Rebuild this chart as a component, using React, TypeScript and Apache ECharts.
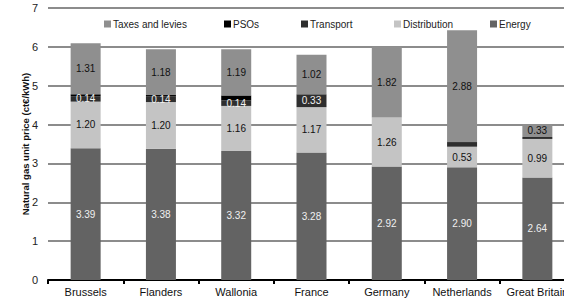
import React, { useEffect, useRef } from "react";
import * as echarts from "echarts";

const categories = ["Brussels", "Flanders", "Wallonia", "France", "Germany", "Netherlands", "Great Britain"];
const energy = [3.39, 3.38, 3.32, 3.28, 2.92, 2.90, 2.64];
const distribution = [1.20, 1.20, 1.16, 1.17, 1.26, 0.53, 0.99];
const transport = [0.14, 0.14, 0.14, 0.33, 0, 0.12, 0.05];
const psos = [0.05, 0.04, 0.13, 0, 0, 0, 0];
const taxes = [1.31, 1.18, 1.19, 1.02, 1.82, 2.88, 0.33];
const transportLabelShown = [true, true, true, true, false, false, false];
const yTicks = [0, 1, 2, 3, 4, 5, 6, 7];
const yAxisTitle = "Natural gas unit price (ct€/kWh)";

const FONT = "Liberation Sans, Arial, sans-serif";

export default function App() {
  const ref = useRef<HTMLDivElement>(null);
  useEffect(() => {
    if (!ref.current) return;
    const chart = echarts.init(ref.current, null, { renderer: "svg" });
    const lbl = (color: string) => ({
      show: true,
      position: "inside" as const,
      color,
      fontFamily: FONT,
      fontSize: 10,
      formatter: (p: any) => (p.value ? Number(p.value).toFixed(2) : ""),
    });
    const mk = (name: string, vals: number[], color: string, labelColor: string, shown?: boolean[]) => ({
      name,
      type: "bar",
      stack: "total",
      barWidth: 30,
      itemStyle: { color },
      label: lbl(labelColor),
      data: vals.map((v, i) =>
        shown && !shown[i] ? { value: v, label: { show: false } } : v
      ),
    });
    const legendItem = (name: string, left: number) => ({
      data: [name],
      left,
      top: 14,
      itemWidth: 7,
      itemHeight: 7,
      itemGap: 0,
      icon: "rect",
      textStyle: { fontFamily: FONT, fontSize: 10, color: "#222", padding: [0, 0, 0, -3] },
    });
    chart.setOption({
      animation: false,
      textStyle: { fontFamily: FONT },
      legend: [
        legendItem("Taxes and levies", 99),
        legendItem("PSOs", 219),
        legendItem("Transport", 296),
        legendItem("Distribution", 389),
        legendItem("Energy", 485),
      ],
      graphic: [
        {
          type: "text",
          x: 25,
          y: 144,
          rotation: Math.PI / 2,
          style: {
            text: yAxisTitle,
            fontFamily: FONT,
            fontSize: 9.5,
            fontWeight: "bold",
            fill: "#111",
            align: "center",
            verticalAlign: "middle",
          },
        },
      ],
      grid: { left: 48, right: 5, top: 8, bottom: 18, containLabel: false },
      xAxis: {
        type: "category",
        data: categories,
        axisLine: { lineStyle: { color: "#000", width: 2 } },
        axisTick: { show: true, length: 4, lineStyle: { color: "#000", width: 2 } },
        axisLabel: { color: "#111", fontSize: 11, fontFamily: FONT, margin: 6, interval: 0 },
      },
      yAxis: {
        type: "value",
        min: yTicks[0],
        max: yTicks[yTicks.length - 1],
        interval: 1,
        axisLine: { show: false },
        axisTick: { show: false },
        axisLabel: { color: "#222", fontSize: 11, fontFamily: FONT, margin: 10 },
        splitLine: { lineStyle: { color: "#8c8c8c", width: 2 } },
      },
      series: [
        mk("Energy", energy, "#636363", "#f0f0f0"),
        mk("Distribution", distribution, "#c4c4c4", "#111"),
        mk("Transport", transport, "#2e2e2e", "#f0f0f0", transportLabelShown),
        { ...mk("PSOs", psos, "#000000", "#fff"), label: { show: false } },
        mk("Taxes and levies", taxes, "#8f8f8f", "#111"),
      ],
    });
    return () => chart.dispose();
  }, []);
  return (
    <div style={{ position: "absolute", left: 0, top: 0, width: 564, height: 298, overflow: "hidden", background: "#fff" }}>
      <div ref={ref} style={{ width: 580, height: 298 }} />
    </div>
  );
}
